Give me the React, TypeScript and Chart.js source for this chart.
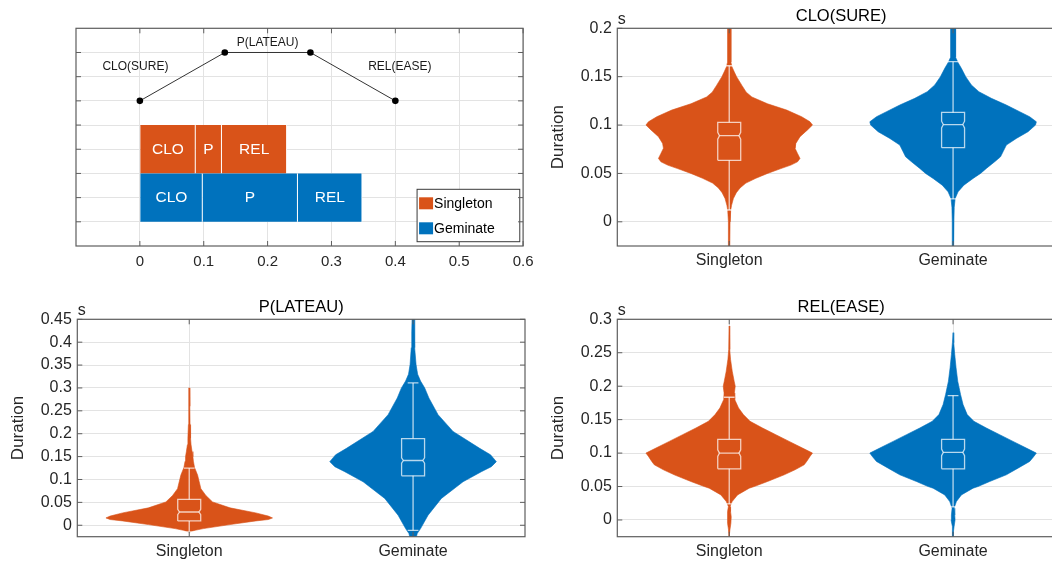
import React, { useEffect, useRef } from 'react';
import { Chart, registerables } from 'chart.js';

Chart.register(...registerables);

const FONT = '"Liberation Sans", Arial, Helvetica, sans-serif';
const TEXT = '#262626';
const AXIS = '#5e5e5e';
const GRID = '#e3e3e3';
const BOX_LINE = 'rgba(255,255,255,0.72)';

Chart.defaults.font.family = FONT;
Chart.defaults.color = TEXT;

// ---------- shared ----------
const groups = ['Singleton', 'Geminate'];
const groupPositions = [1, 2];
const groupColors = ['#D95319', '#0072BD'];

// ---------- top-left schematic ----------
const phaseNames = ['CLO', 'P', 'REL'];
const singletonBounds = [0, 0.087, 0.128, 0.23];
const geminateBounds = [0, 0.098, 0.247, 0.348];
const barRows = [4, 2];
const schematicX = [0, 0.133, 0.267, 0.4];
const schematicY = [6, 8, 8, 6];
const phaseLabels = ['CLO(SURE)', 'P(LATEAU)', 'REL(EASE)'];
const phaseLabelX = [-0.007, 0.2, 0.407];
const phaseLabelY = [7.42, 8.41, 7.42];
const schematicXTicks = [0, 0.1, 0.2, 0.3, 0.4, 0.5, 0.6];
const schematicYTicks = [1, 2, 3, 4, 5, 6, 7, 8];

// ---------- violin panels ----------
const durationMin = -0.025;
const cloTicks = [0, 0.05, 0.1, 0.15, 0.2];
const plateauTicks = [0, 0.05, 0.1, 0.15, 0.2, 0.25, 0.3, 0.35, 0.4, 0.45];
const releaseTicks = [0, 0.05, 0.1, 0.15, 0.2, 0.25, 0.3];

// [duration (s), relative density]
const cloSingletonProfile = [
  [0.24, 0.02], [0.165, 0.02], [0.16, 0.034], [0.155, 0.06], [0.15, 0.088], [0.141, 0.152],
  [0.134, 0.204], [0.129, 0.272], [0.122, 0.46], [0.1155, 0.69], [0.1086, 0.87], [0.1034, 0.97],
  [0.1, 1.0], [0.095, 0.94], [0.088, 0.85], [0.081, 0.8], [0.076, 0.79], [0.0707, 0.82],
  [0.0655, 0.85], [0.062, 0.82], [0.0586, 0.74], [0.055, 0.62], [0.05, 0.46], [0.045, 0.32],
  [0.04, 0.2], [0.035, 0.13], [0.03, 0.085], [0.024, 0.05], [0.017, 0.028], [0.012, 0.018],
  [0.0, 0.01], [-0.04, 0.005],
];
const cloGeminateProfile = [
  [0.24, 0.03], [0.17, 0.03], [0.1645, 0.06], [0.1586, 0.1], [0.15, 0.152], [0.1414, 0.22],
  [0.1345, 0.31], [0.1276, 0.46], [0.1207, 0.64], [0.1138, 0.8], [0.1086, 0.92], [0.1034, 1.0],
  [0.1, 0.99], [0.0931, 0.9], [0.0862, 0.76], [0.0793, 0.64], [0.0724, 0.6], [0.0672, 0.57],
  [0.0621, 0.5], [0.0552, 0.4], [0.05, 0.33], [0.0448, 0.24], [0.0379, 0.13], [0.031, 0.06],
  [0.0241, 0.025], [0.015, 0.014], [0.0, 0.01], [-0.04, 0.005],
];
const plateauSingletonProfile = [
  [0.3, 0.004], [0.26, 0.007], [0.22, 0.01], [0.19, 0.016], [0.176, 0.022], [0.161, 0.034],
  [0.15, 0.044], [0.14, 0.05], [0.126, 0.064], [0.11, 0.1], [0.095, 0.12], [0.08, 0.14],
  [0.065, 0.2], [0.051, 0.28], [0.038, 0.49], [0.027, 0.8], [0.02, 0.95], [0.016, 1.0],
  [0.0125, 0.95], [0.0095, 0.8], [0.0015, 0.49], [-0.0073, 0.17], [-0.011, 0.07], [-0.0146, 0.01],
];
const plateauGeminateProfile = [
  [0.48, 0.01], [0.4517, 0.012], [0.42, 0.016], [0.388, 0.022], [0.351, 0.036], [0.33, 0.055],
  [0.315, 0.09], [0.3, 0.14], [0.278, 0.19], [0.2416, 0.3], [0.205, 0.48], [0.168, 0.8],
  [0.154, 0.93], [0.139, 1.0], [0.128, 0.94], [0.117, 0.82], [0.095, 0.6], [0.0586, 0.34],
  [0.022, 0.18], [-0.0073, 0.09], [-0.018, 0.05], [-0.04, 0.02],
];
const releaseSingletonProfile = [
  [0.29, 0.002], [0.255, 0.006], [0.24, 0.016], [0.2225, 0.036], [0.207, 0.06], [0.2, 0.072],
  [0.19, 0.062], [0.18, 0.066], [0.1675, 0.112], [0.1575, 0.17], [0.1475, 0.25], [0.1375, 0.4],
  [0.1275, 0.56], [0.1175, 0.72], [0.1075, 0.88], [0.1, 1.0], [0.095, 0.97], [0.0875, 0.93],
  [0.0825, 0.9], [0.075, 0.79], [0.0675, 0.66], [0.0575, 0.46], [0.05, 0.3], [0.0475, 0.24],
  [0.0375, 0.1], [0.0275, 0.035], [0.02, 0.01], [0.0125, 0.016], [0.005, 0.024], [-0.005, 0.02],
  [-0.015, 0.008], [-0.024, 0.002],
];
const releaseGeminateProfile = [
  [0.28, 0.0], [0.265, 0.008], [0.2475, 0.02], [0.2275, 0.036], [0.2075, 0.056], [0.1875, 0.09],
  [0.1725, 0.12], [0.1575, 0.17], [0.1475, 0.25], [0.1375, 0.4], [0.1275, 0.56], [0.1175, 0.72],
  [0.1075, 0.88], [0.1, 1.0], [0.095, 0.97], [0.0875, 0.92], [0.0775, 0.78], [0.0675, 0.64],
  [0.0575, 0.44], [0.05, 0.3], [0.0475, 0.24], [0.0375, 0.1], [0.0275, 0.04], [0.0175, 0.012],
  [0.0075, 0.02], [0.0, 0.024], [-0.01, 0.012], [-0.0175, 0.004], [-0.025, 0.001],
];

// [lower whisker, Q1, median, Q3, upper whisker] per group
const cloSummary = [
  [0.0122, 0.0635, 0.089, 0.1028, 0.1613],
  [0.0237, 0.0766, 0.1005, 0.1131, 0.1655],
];
const plateauSummary = [
  [-0.0146, 0.0095, 0.029, 0.0564, 0.125],
  [-0.011, 0.108, 0.1415, 0.1895, 0.311],
];
const releaseSummary = [
  [0.024, 0.0765, 0.1, 0.1205, 0.1835],
  [0.0195, 0.0765, 0.101, 0.1205, 0.186],
];
const notchHalfHeights = [0.0035, 0.006, 0.005];

// geometry constants (category units)
const VIOLIN_HALF = 0.372;
const BOX_HALF = 0.0513;
const CAP_HALF = 0.024;
const NOTCH_INDENT = 0.15;

// ---------- plugins ----------
const frameAndTicks = {
  id: 'frameAndTicks',
  afterDatasetsDraw(chart: any) {
    const { ctx, chartArea: a, scales } = chart;
    const tl = 5;
    ctx.save();
    ctx.strokeStyle = AXIS;
    ctx.lineWidth = 1;
    ctx.beginPath();
    scales.y.ticks.forEach((t: any) => {
      const py = scales.y.getPixelForValue(t.value);
      ctx.moveTo(a.left, py); ctx.lineTo(a.left + tl, py);
      ctx.moveTo(a.right, py); ctx.lineTo(a.right - tl, py);
    });
    scales.x.ticks.forEach((t: any) => {
      const px = scales.x.getPixelForValue(t.value);
      ctx.moveTo(px, a.bottom); ctx.lineTo(px, a.bottom - tl);
      ctx.moveTo(px, a.top); ctx.lineTo(px, a.top + tl);
    });
    ctx.stroke();
    ctx.lineWidth = 1.2;
    ctx.strokeRect(a.left, a.top, a.right - a.left, a.bottom - a.top);
    ctx.restore();
  },
};

const unitLabel = {
  id: 'unitLabel',
  afterDraw(chart: any) {
    const { ctx, chartArea: a } = chart;
    ctx.save();
    ctx.fillStyle = TEXT;
    ctx.font = `16px ${FONT}`;
    ctx.textAlign = 'left';
    ctx.textBaseline = 'alphabetic';
    ctx.fillText('s', a.left + 0.5, a.top - 4);
    ctx.restore();
  },
};

const schematicDecor = {
  id: 'schematicDecor',
  afterDatasetsDraw(chart: any) {
    const { ctx, chartArea: a, scales } = chart;
    ctx.save();
    // labels inside bars
    ctx.fillStyle = '#ffffff';
    ctx.font = `15.5px ${FONT}`;
    ctx.textAlign = 'center';
    ctx.textBaseline = 'middle';
    chart.data.datasets.forEach((ds: any, i: number) => {
      if (ds.type !== 'bar') return;
      chart.getDatasetMeta(i).data.forEach((el: any) => {
        ctx.fillText(ds.label, (el.x + el.base) / 2, el.y + 0.5);
      });
    });
    // phase annotations
    ctx.fillStyle = '#1a1a1a';
    ctx.font = `12px ${FONT}`;
    phaseLabels.forEach((t, i) => {
      ctx.fillText(t, scales.x.getPixelForValue(phaseLabelX[i]), scales.y.getPixelForValue(phaseLabelY[i]));
    });
    // legend box
    const w = 102.7, h = 52.4;
    const x0 = a.right - 3.3 - w;
    const y0 = a.bottom - 4.3 - h;
    ctx.fillStyle = '#ffffff';
    ctx.fillRect(x0, y0, w, h);
    ctx.strokeStyle = '#3a3a3a';
    ctx.lineWidth = 1;
    ctx.strokeRect(x0, y0, w, h);
    ctx.font = `14px ${FONT}`;
    ctx.textAlign = 'left';
    groups.forEach((g, i) => {
      const cy = y0 + 14 + i * 25;
      ctx.fillStyle = groupColors[i];
      ctx.fillRect(x0 + 2, cy - 6, 14, 12);
      ctx.fillStyle = '#000000';
      ctx.fillText(g, x0 + 17, cy + 0.5);
    });
    ctx.restore();
  },
};

// ---------- configs ----------
function schematicConfig() {
  const bounds = [singletonBounds, geminateBounds];
  const barSets = phaseNames.map((name, p) => ({
    type: 'bar',
    label: name,
    indexAxis: 'y',
    stack: 'phases',
    data: bounds.map((b, g) => ({ x: [b[p], b[p + 1]], y: barRows[g] })),
    backgroundColor: groupColors,
    borderColor: '#ffffff',
    borderWidth: { left: 0, right: 1, top: 0, bottom: 0 },
    borderSkipped: false,
    barThickness: 'flex',
    categoryPercentage: 1,
    barPercentage: 1,
    order: 2,
  }));
  const lineSet = {
    type: 'scatter',
    label: 'gesture',
    data: schematicX.map((x, i) => ({ x, y: schematicY[i] })),
    showLine: true,
    borderColor: '#333333',
    borderWidth: 1,
    pointRadius: 3.3,
    pointBackgroundColor: '#000000',
    pointBorderColor: '#000000',
    pointBorderWidth: 0,
    order: 1,
  };
  return {
    type: 'scatter',
    data: { datasets: [...barSets, lineSet] },
    options: {
      animation: false,
      responsive: false,
      devicePixelRatio: 1,
      events: [],
      layout: { padding: { left: 0, top: 28.3, right: 16.7, bottom: 0 } },
      plugins: { legend: { display: false }, tooltip: { enabled: false } },
      scales: {
        x: {
          type: 'linear', min: -0.1, max: 0.6, stacked: false, offset: false,
          afterBuildTicks: (s: any) => { s.ticks = schematicXTicks.map((value) => ({ value })); },
          afterFit: (s: any) => { s.height = 44; },
          grid: { color: GRID, drawTicks: false, offset: false },
          border: { display: false },
          ticks: { callback: (v: any) => String(v), font: { size: 15, family: FONT }, color: TEXT, padding: 6.5, maxRotation: 0, autoSkip: false },
        },
        y: {
          type: 'linear', min: 0, max: 9, offset: false,
          afterBuildTicks: (s: any) => { s.ticks = schematicYTicks.map((value) => ({ value })); },
          afterFit: (s: any) => { s.width = 76; },
          grid: { color: GRID, drawTicks: false, offset: false },
          border: { display: false },
          ticks: { display: false },
        },
      },
    },
    plugins: [schematicDecor, frameAndTicks],
  };
}

function violinConfig(title: string, ticks: number[], profiles: number[][][], summaries: number[][], notch: number, titlePadTop: number, xAxisHeight: number) {
  const datasets: any[] = [];
  profiles.forEach((prof, g) => {
    const c = groupPositions[g];
    const right = prof.map(([v, w]) => ({ x: c + w * VIOLIN_HALF, y: v }));
    const left = [...prof].reverse().map(([v, w]) => ({ x: c - w * VIOLIN_HALF, y: v }));
    datasets.push({
      label: groups[g],
      data: [...right, ...left, right[0]],
      showLine: true,
      fill: 'shape',
      backgroundColor: groupColors[g],
      borderColor: groupColors[g],
      borderWidth: 0.6,
      pointRadius: 0,
      order: 2,
    });
  });
  const seg = (pts: number[][]) => ({
    data: pts.map(([x, y]) => ({ x, y })),
    showLine: true,
    fill: false,
    borderColor: BOX_LINE,
    borderWidth: 1.3,
    pointRadius: 0,
    order: 1,
  });
  summaries.forEach(([lo, q1, med, q3, hi], g) => {
    const c = groupPositions[g];
    const bw = BOX_HALF;
    const ind = bw * NOTCH_INDENT;
    datasets.push(seg([
      [c - bw, q1], [c + bw, q1], [c + bw, med - notch], [c + bw - ind, med], [c + bw, med + notch],
      [c + bw, q3], [c - bw, q3], [c - bw, med + notch], [c - bw + ind, med], [c - bw, med - notch], [c - bw, q1],
    ]));
    datasets.push(seg([[c - bw + ind, med], [c + bw - ind, med]]));
    datasets.push(seg([[c, q3], [c, hi]]));
    datasets.push(seg([[c, q1], [c, lo]]));
    datasets.push(seg([[c - CAP_HALF, hi], [c + CAP_HALF, hi]]));
    datasets.push(seg([[c - CAP_HALF, lo], [c + CAP_HALF, lo]]));
  });
  return {
    type: 'scatter',
    data: { datasets },
    options: {
      animation: false,
      responsive: false,
      devicePixelRatio: 1,
      events: [],
      layout: { padding: { left: 0, top: 0, right: 15, bottom: 0 } },
      plugins: {
        legend: { display: false },
        tooltip: { enabled: false },
        title: {
          display: true, text: title, fullSize: false, color: '#000000',
          font: { size: 16.5, family: FONT, weight: 'normal' },
          padding: { top: titlePadTop, bottom: 2 },
        },
      },
      scales: {
        x: {
          type: 'linear', min: 0.5, max: 2.5,
          afterBuildTicks: (s: any) => { s.ticks = groupPositions.map((value) => ({ value })); },
          afterFit: (s: any) => { s.height = xAxisHeight; },
          grid: { color: GRID, drawTicks: false },
          border: { display: false },
          ticks: { callback: (_v: any, i: number) => groups[i], font: { size: 16, family: FONT }, color: TEXT, padding: 5, maxRotation: 0, autoSkip: false },
        },
        y: {
          type: 'linear', min: durationMin, max: ticks[ticks.length - 1],
          afterBuildTicks: (s: any) => { s.ticks = ticks.map((value) => ({ value })); },
          afterFit: (s: any) => { s.width = 77.3; },
          grid: { color: GRID, drawTicks: false },
          border: { display: false },
          ticks: { callback: (v: any) => String(v), font: { size: 16, family: FONT }, color: TEXT, padding: 5.5 },
          title: { display: true, text: 'Duration', color: TEXT, font: { size: 17, family: FONT }, padding: { top: 7.8, bottom: 0 } },
        },
      },
    },
    plugins: [frameAndTicks, unitLabel],
  };
}

// ---------- components ----------
function Panel({ make, left, top, width, height }: any) {
  const ref = useRef<HTMLCanvasElement>(null);
  useEffect(() => {
    const chart = new Chart(ref.current as HTMLCanvasElement, make());
    return () => chart.destroy();
  }, []);
  return (
    <canvas
      ref={ref}
      width={width}
      height={height}
      style={{ position: 'absolute', left, top, width, height }}
    />
  );
}

export default function App() {
  return (
    <div style={{ position: 'absolute', left: 0, top: 0, width: 1052, height: 563, overflow: 'hidden', background: '#ffffff' }}>
      <Panel make={schematicConfig} left={0} top={0} width={540} height={290} />
      <Panel
        make={() => violinConfig('CLO(SURE)', cloTicks, [cloSingletonProfile, cloGeminateProfile], cloSummary, notchHalfHeights[0], 6.5, 44)}
        left={540} top={0} width={540} height={290}
      />
      <Panel
        make={() => violinConfig('P(LATEAU)', plateauTicks, [plateauSingletonProfile, plateauGeminateProfile], plateauSummary, notchHalfHeights[1], 7.5, 26.3)}
        left={0} top={290} width={540} height={273}
      />
      <Panel
        make={() => violinConfig('REL(EASE)', releaseTicks, [releaseSingletonProfile, releaseGeminateProfile], releaseSummary, notchHalfHeights[2], 7.5, 26.3)}
        left={540} top={290} width={540} height={273}
      />
    </div>
  );
}
